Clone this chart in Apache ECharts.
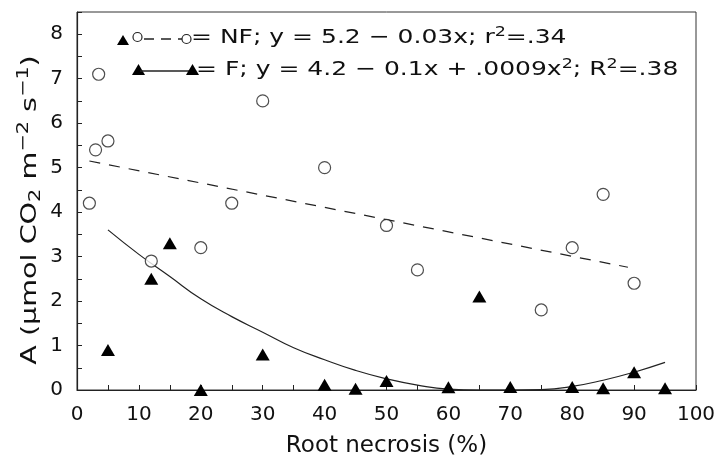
<!DOCTYPE html>
<html>
<head>
<meta charset="utf-8">
<script src="https://cdn.jsdelivr.net/npm/echarts@6/dist/echarts.min.js"></script>
<style>
  html, body { margin: 0; padding: 0; background: #fff; }
  #chart { width: 722px; height: 455px; }
</style>
</head>
<body>
<div id="chart"></div>
<script>
// NF: open circles (x = root necrosis %, y = A)
var nfX = [2, 3, 3.5, 5, 12, 20, 25, 30, 40, 50, 55, 75, 80, 85, 90];
var nfY = [4.2, 5.4, 7.1, 5.6, 2.9, 3.2, 4.2, 6.5, 5.0, 3.7, 2.7, 1.8, 3.2, 4.4, 2.4];
// F: filled triangles
var fX = [5, 12, 15, 20, 30, 40, 45, 50, 60, 65, 70, 80, 85, 90, 95];
var fY = [0.9, 2.5, 3.3, 0, 0.8, 0.12, 0.03, 0.2, 0.06, 2.1, 0.07, 0.07, 0.04, 0.4, 0.04];
// fitted lines
var nfFitX = [2, 89];
var nfFitY = [5.15, 2.76];
var fFitX = [5, 10, 15, 20, 25, 30, 35, 40, 45, 50, 55, 60, 65, 70, 75, 80, 85, 90, 95];
var fFitY = [3.6, 3.05, 2.55, 2.05, 1.65, 1.3, 0.95, 0.68, 0.44, 0.25, 0.11, 0.02, 0, 0, 0.01, 0.08, 0.22, 0.4, 0.62];

var xTicks = [0, 10, 20, 30, 40, 50, 60, 70, 80, 90, 100];
var yTicks = [0, 1, 2, 3, 4, 5, 6, 7, 8];

function pairs(xs, ys) {
  return xs.map(function (x, i) { return [x, ys[i]]; });
}

var FONT = 'DejaVu Sans';
var myChart = echarts.init(document.getElementById('chart'));

var supStyle = { fontFamily: FONT, fontSize: 14, fill: '#111', padding: [0, 0, 12, 0] };

var option = {
  backgroundColor: '#fff',
  animation: false,
  grid: {
    left: 77, right: 26, top: 12, bottom: 65,
    outerBoundsMode: 'none',
    containLabel: false,
    show: true, borderColor: '#333', borderWidth: 1
  },
  xAxis: {
    type: 'value',
    min: xTicks[0], max: xTicks[xTicks.length - 1], interval: 10,
    name: 'Root necrosis (%)',
    nameLocation: 'middle',
    nameGap: 45,
    nameTextStyle: { fontFamily: FONT, fontSize: 23, color: '#111' },
    axisLine: { lineStyle: { color: '#222', width: 1.2 } },
    axisTick: { inside: true, length: 5, lineStyle: { color: '#222' } },
    minorTick: { show: true, splitNumber: 2, length: 5, lineStyle: { color: '#222' } },
    splitLine: { show: false },
    axisLabel: { fontFamily: FONT, fontSize: 20, color: '#111', margin: 15 }
  },
  yAxis: {
    type: 'value',
    min: 0, max: 8.5, interval: 1,
    axisLine: { show: true, lineStyle: { color: '#222', width: 1.2 } },
    axisTick: { show: true, inside: true, length: 5, lineStyle: { color: '#222' } },
    minorTick: { show: true, splitNumber: 2, length: 5, lineStyle: { color: '#222' } },
    splitLine: { show: false },
    axisLabel: {
      fontFamily: FONT, fontSize: 20, color: '#111', margin: 14,
      formatter: function (v) { return yTicks.indexOf(v) >= 0 ? String(v) : ''; }
    }
  },
  series: [
    {
      name: 'NF',
      type: 'scatter',
      data: pairs(nfX, nfY),
      symbol: 'circle',
      symbolSize: 12,
      itemStyle: { color: '#fff', borderColor: '#222', borderWidth: 1.2 },
      z: 3
    },
    {
      name: 'F',
      type: 'scatter',
      data: pairs(fX, fY),
      symbol: 'triangle',
      symbolSize: [14, 12],
      itemStyle: { color: '#000', opacity: 1 },
      z: 3
    },
    {
      name: 'NF fit',
      type: 'line',
      data: pairs(nfFitX, nfFitY),
      showSymbol: false,
      lineStyle: { color: '#222', width: 1.2, type: [11, 9] },
      z: 2
    },
    {
      name: 'F fit',
      type: 'line',
      data: pairs(fFitX, fFitY),
      smooth: true,
      showSymbol: false,
      lineStyle: { color: '#222', width: 1.2 },
      z: 2
    }
  ],
  graphic: [
    // y axis title, stretched like the original lettering
    {
      type: 'text', x: 30, y: 210, rotation: Math.PI / 2, scaleX: 1.3,
      style: {
        text: 'A (\u03bcmol CO{sub|2} m{sup|\u22122} s{sup|\u22121})',
        font: '22px "DejaVu Sans"', fill: '#111',
        align: 'center', verticalAlign: 'middle',
        rich: {
          sub: { fontFamily: FONT, fontSize: 16, fill: '#111', padding: [12, 0, 0, 0] },
          sup: { fontFamily: FONT, fontSize: 16, fill: '#111', padding: [0, 0, 13, 0] }
        }
      }
    },
    // legend row 1: NF
    { type: 'polygon', shape: { points: [[117, 45], [129, 45], [123, 35]] }, style: { fill: '#000' } },
    { type: 'circle', shape: { cx: 137.5, cy: 37, r: 4.5 }, style: { fill: '#fff', stroke: '#222', lineWidth: 1.2 } },
    { type: 'line', shape: { x1: 144, y1: 39, x2: 182, y2: 39 }, style: { stroke: '#222', lineWidth: 1.5, lineDash: [10, 7] } },
    { type: 'circle', shape: { cx: 186.5, cy: 39, r: 4.5 }, style: { fill: '#fff', stroke: '#222', lineWidth: 1.2 } },
    {
      type: 'text', x: 191, y: 25, scaleX: 1.25,
      style: {
        text: '= NF; y = 5.2 \u2212 0.03x; r{sup|2}=.34',
        font: '20px "DejaVu Sans"', fill: '#111',
        rich: { sup: supStyle }
      }
    },
    // legend row 2: F
    { type: 'polygon', shape: { points: [[132, 75], [145, 75], [138.5, 64]] }, style: { fill: '#000' } },
    { type: 'line', shape: { x1: 140, y1: 71, x2: 190, y2: 71 }, style: { stroke: '#222', lineWidth: 1.3 } },
    { type: 'polygon', shape: { points: [[186, 75], [199, 75], [192.5, 64]] }, style: { fill: '#000' } },
    {
      type: 'text', x: 196, y: 57, scaleX: 1.25,
      style: {
        text: '= F; y = 4.2 \u2212 0.1x + .0009x{sup|2}; R{sup|2}=.38',
        font: '20px "DejaVu Sans"', fill: '#111',
        rich: { sup: supStyle }
      }
    }
  ]
};

myChart.setOption(option);
window.addEventListener('resize', function () {
  if (myChart) {
    myChart.resize();
  }
});
</script>
</body>
</html>
